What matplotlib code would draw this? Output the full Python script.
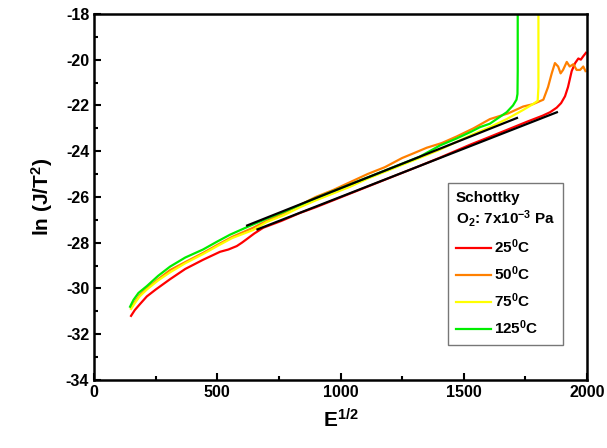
import matplotlib
matplotlib.use("Agg")
import matplotlib.pyplot as plt
from matplotlib.ticker import MultipleLocator

plt.rcParams['font.family'] = ['Liberation Sans', 'DejaVu Sans']
plt.rcParams['font.weight'] = 'bold'
plt.rcParams['mathtext.default'] = 'regular'
plt.rcParams['axes.unicode_minus'] = False

# 25 C
x_25 = [150, 165, 185, 214, 250, 308, 370, 442, 511, 545, 579, 600, 619, 650, 686, 760, 836,
        900, 970, 1040, 1110, 1180, 1250, 1320, 1400, 1465, 1530, 1600, 1680, 1760, 1820,
        1850, 1877, 1895, 1911, 1923, 1938, 1952, 1965, 1975, 1985, 1996]
y_25 = [-31.2, -30.95, -30.7, -30.35, -30.05, -29.6, -29.15, -28.75, -28.4, -28.3, -28.15, -28.0,
        -27.85, -27.6, -27.35, -27.05, -26.7, -26.45, -26.15, -25.85, -25.55, -25.25, -24.95,
        -24.65, -24.3, -24.0, -23.7, -23.4, -23.05, -22.7, -22.45, -22.3, -22.1, -21.9, -21.6,
        -21.2, -20.5, -20.15, -19.95, -20.0, -19.85, -19.7]

# 50 C
x_50 = [150, 165, 185, 214, 260, 308, 370, 442, 500, 560, 645, 700, 770, 836, 900, 970, 1040,
        1110, 1180, 1250, 1295, 1350, 1410, 1471, 1540, 1606, 1680, 1741, 1780, 1823, 1842,
        1857, 1870, 1883, 1893, 1903, 1918, 1930, 1945, 1958, 1972, 1985, 1994]
y_50 = [-30.85, -30.6, -30.3, -30.0, -29.6, -29.2, -28.85, -28.45, -28.1, -27.75, -27.35, -27.05,
        -26.7, -26.35, -26.0, -25.7, -25.35, -25.0, -24.7, -24.3, -24.1, -23.85, -23.65, -23.36,
        -23.0, -22.6, -22.35, -22.05, -21.95, -21.75, -21.2, -20.6, -20.15, -20.3, -20.6, -20.45,
        -20.1, -20.3, -20.2, -20.45, -20.45, -20.3, -20.5]

# 75 C
x_75 = [150, 165, 185, 214, 260, 308, 370, 442, 500, 560, 645, 700, 770, 836, 900, 970, 1040,
        1110, 1180, 1250, 1320, 1400, 1470, 1540, 1606, 1674, 1741, 1780, 1800, 1803, 1803, 1803]
y_75 = [-30.9, -30.65, -30.35, -30.05, -29.65, -29.3, -28.9, -28.5, -28.15, -27.8, -27.45, -27.1,
        -26.8, -26.45, -26.15, -25.85, -25.55, -25.2, -24.9, -24.6, -24.3, -23.95, -23.6, -23.25,
        -22.95, -22.6, -22.2, -21.95, -21.8, -21.2, -19.5, -17.9]

# 125 C
x_125 = [146, 160, 180, 214, 260, 308, 370, 442, 500, 552, 625, 700, 770, 836, 900, 970, 1040,
         1110, 1180, 1250, 1320, 1404, 1470, 1530, 1566, 1606, 1640, 1674, 1700, 1714, 1718,
         1719, 1719, 1719]
y_125 = [-30.8, -30.5, -30.2, -29.9, -29.45, -29.05, -28.65, -28.3, -27.95, -27.65, -27.3, -26.95,
         -26.65, -26.35, -26.05, -25.75, -25.45, -25.15, -24.85, -24.55, -24.25, -23.75, -23.45,
         -23.15, -22.95, -22.8, -22.55, -22.3, -22.0, -21.75, -21.5, -20.5, -19.0, -17.9]

# linear fits
fit_low_x = [663, 1878]
fit_low_y = [-27.42, -22.3]
fit_high_x = [621, 1716]
fit_high_y = [-27.25, -22.55]

fig = plt.figure(figsize=(6.07, 4.48), dpi=100)
ax = fig.add_axes([0.155, 0.152, 0.812, 0.817])

ax.plot(x_25, y_25, color='#ff0000', lw=1.6, label='25$^0$C')
ax.plot(x_50, y_50, color='#ff8000', lw=1.6, label='50$^0$C')
ax.plot(x_75, y_75, color='#ffff00', lw=1.6, label='75$^0$C')
ax.plot(x_125, y_125, color='#00ee00', lw=1.6, label='125$^0$C')
ax.plot(fit_low_x, fit_low_y, color='black', lw=1.6)
ax.plot(fit_high_x, fit_high_y, color='black', lw=1.6)

ax.set_xlim(0, 2000)
ax.set_ylim(-34, -18)
ax.xaxis.set_major_locator(MultipleLocator(500))
ax.xaxis.set_minor_locator(MultipleLocator(250))
ax.yaxis.set_major_locator(MultipleLocator(2))
ax.yaxis.set_minor_locator(MultipleLocator(1))
ax.tick_params(which='both', direction='in', width=1.5, labelsize=11.5)
ax.tick_params(which='major', length=5)
ax.tick_params(which='minor', length=3)
ax.tick_params(right=False, top=False)
for s in ax.spines.values():
    s.set_linewidth(1.8)

ax.set_xlabel('E$^{1/2}$', fontsize=15, fontweight='bold', labelpad=6)
ax.set_ylabel('ln (J/T$^2$)', fontsize=15, fontweight='bold', labelpad=8)

leg = ax.legend(title='Schottky\nO$_2$: 7x10$^{-3}$ Pa', loc='lower right',
                bbox_to_anchor=(0.951, 0.096), borderaxespad=0, fontsize=11, title_fontsize=11,
                frameon=True, fancybox=False, edgecolor='#555555', handlelength=2.3,
                handletextpad=0.2, labelspacing=0.55, borderpad=0.5, alignment='left')
leg.get_frame().set_linewidth(1.0)
leg.get_title().set_fontweight('bold')
for t in leg.get_texts():
    t.set_fontweight('bold')

fig.savefig('out.png', dpi=100)
